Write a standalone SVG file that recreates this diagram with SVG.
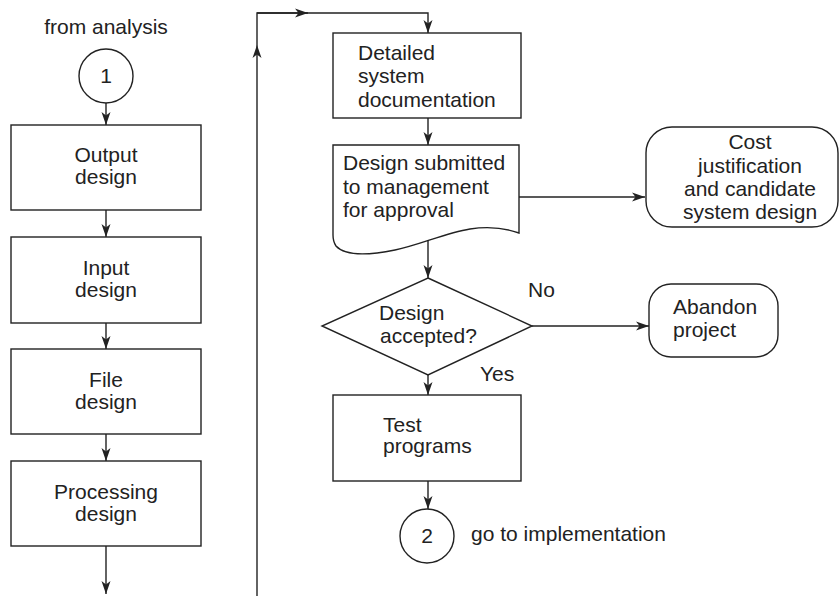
<svg xmlns="http://www.w3.org/2000/svg" width="840" height="596" viewBox="0 0 840 596">
<defs>
<marker id="ah" markerUnits="userSpaceOnUse" markerWidth="14" markerHeight="10" refX="13" refY="5" orient="auto">
<path d="M0,0.5 L13,5 L0,9.5 L3.5,5 Z" fill="#222"/>
</marker>
<style>
.s{fill:#fff;stroke:#222;stroke-width:1.4}
.c{fill:none;stroke:#222;stroke-width:1.4;marker-end:url(#ah)}
.l{fill:none;stroke:#222;stroke-width:1.4}
text{font-family:"Liberation Sans",Arial,sans-serif;font-size:21px;fill:#222}
.m{text-anchor:middle}
</style>
</defs>
<rect width="840" height="596" fill="#fff"/>
<g id="connectors">
<path class="c" d="M106,103 V125"/>
<path class="c" d="M106,210 V237"/>
<path class="c" d="M106,323 V349"/>
<path class="c" d="M106,434 V461"/>
<path class="c" d="M106,546 V594"/>
<path class="c" d="M257,596 V45"/>
<path class="l" d="M257,45 V13 H307"/>
<path class="c" d="M257,13 H308"/>
<path class="c" d="M307,13 H428 V33"/>
<path class="c" d="M428,118 V145"/>
<path class="c" d="M519,197 H645"/>
<path class="c" d="M428,238 V278"/>
<path class="c" d="M532,326 H649"/>
<path class="c" d="M428,375 V395"/>
<path class="c" d="M428,481 V509"/>
</g>
<g id="from-analysis"><text class="m" x="106" y="34">from analysis</text></g>
<g id="c1"><circle class="s" cx="106" cy="76" r="27"/><text class="m" x="106" y="83">1</text></g>
<g id="output"><rect class="s" x="11" y="125" width="190" height="85"/><text class="m" x="106" y="162">Output</text><text class="m" x="106" y="184">design</text></g>
<g id="input"><rect class="s" x="11" y="237" width="190" height="86"/><text class="m" x="106" y="275">Input</text><text class="m" x="106" y="297">design</text></g>
<g id="file"><rect class="s" x="11" y="349" width="190" height="85"/><text class="m" x="106" y="387">File</text><text class="m" x="106" y="409">design</text></g>
<g id="processing"><rect class="s" x="11" y="461" width="190" height="85"/><text class="m" x="106" y="499">Processing</text><text class="m" x="106" y="521">design</text></g>
<g id="detailed"><rect class="s" x="333" y="33" width="188" height="85"/><text x="358" y="60">Detailed</text><text x="358" y="83">system</text><text x="358" y="107">documentation</text></g>
<g id="submitted"><path class="s" d="M333,145 H519 V233 C505,228 490,226 470,229 C445,233 420,245 395,250 C370,255 345,256 336,246 C334,243 333,240 333,235 Z"/><text x="343" y="170">Design submitted</text><text x="343" y="194">to management</text><text x="343" y="217">for approval</text></g>
<g id="cost"><rect class="s" x="646" y="127" width="192" height="100" rx="26" ry="26"/><text class="m" x="750" y="149">Cost</text><text class="m" x="750" y="173">justification</text><text class="m" x="750" y="196">and candidate</text><text class="m" x="750" y="219">system design</text></g>
<g id="decision"><path class="s" d="M428,278 L532,326 L428,375 L322,326 Z"/><text x="379" y="320">Design</text><text x="380" y="343">accepted?</text></g>
<g id="no"><text x="528" y="297">No</text></g>
<g id="yes"><text x="480" y="381">Yes</text></g>
<g id="abandon"><rect class="s" x="649" y="284" width="129" height="73" rx="22" ry="22"/><text x="673" y="314">Abandon</text><text x="673" y="337">project</text></g>
<g id="test"><rect class="s" x="333" y="395" width="188" height="86"/><text x="383" y="432">Test</text><text x="383" y="453">programs</text></g>
<g id="c2"><circle class="s" cx="427" cy="536" r="27"/><text class="m" x="427" y="543">2</text></g>
<g id="goto"><text x="471" y="541">go to implementation</text></g>
</svg>
